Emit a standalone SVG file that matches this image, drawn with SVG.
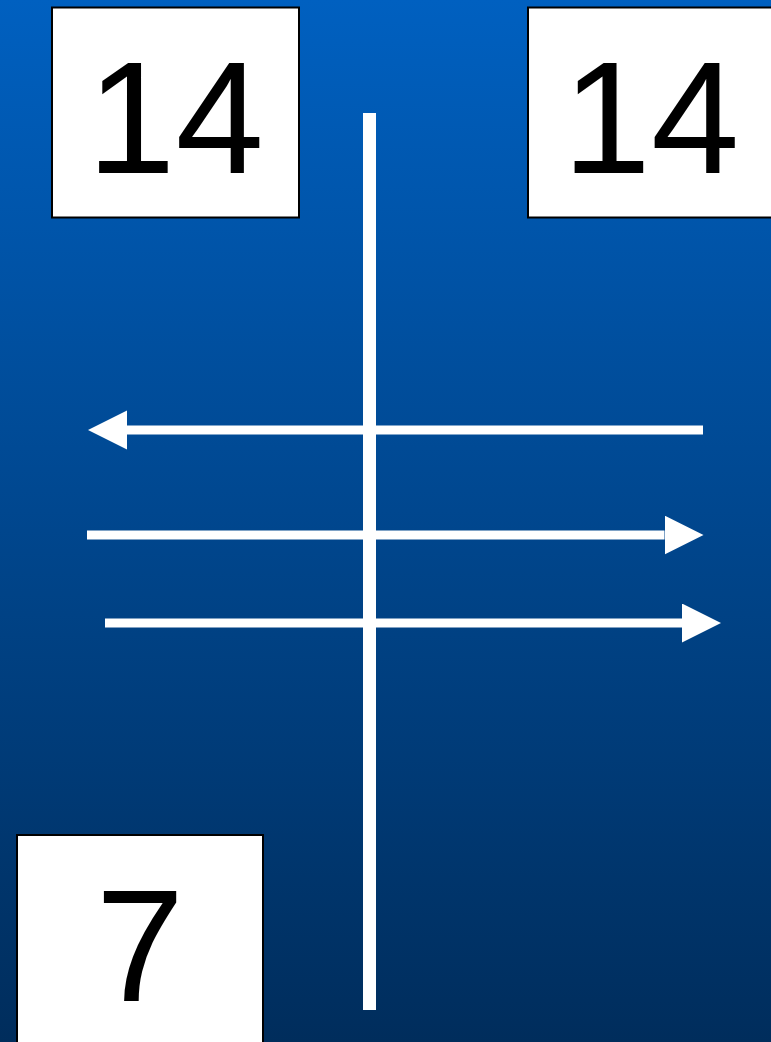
<svg xmlns="http://www.w3.org/2000/svg" width="771" height="1042" viewBox="0 0 771 1042">
<defs>
<linearGradient id="bg" x1="0" y1="0" x2="0" y2="1">
<stop offset="0" stop-color="#0060C0"/>
<stop offset="1" stop-color="#002D5C"/>
</linearGradient>
<marker id="ah" markerUnits="userSpaceOnUse" markerWidth="40" markerHeight="40" refX="0" refY="19.5" orient="auto">
<path d="M0,0 L39,19.5 L0,39 z" fill="#fff"/>
</marker>
<style>
.box{fill:#fff;stroke:#000;stroke-width:2}
.lbl{font-family:"Liberation Sans",Arial,sans-serif;font-size:159px;fill:#000;text-anchor:middle}
.ln{stroke:#fff;stroke-width:9;fill:none}
</style>
</defs>
<rect x="0" y="0" width="771" height="1042" fill="url(#bg)"/>
<g id="connectors">
<line x1="369.5" y1="113" x2="369.5" y2="1010" stroke="#fff" stroke-width="13"/>
<line class="ln" x1="703" y1="430" x2="127" y2="430" marker-end="url(#ah)"/>
<line class="ln" x1="87" y1="535" x2="664.5" y2="535" marker-end="url(#ah)"/>
<line class="ln" x1="105" y1="623" x2="682" y2="623" marker-end="url(#ah)"/>
</g>
<g id="node1">
<rect class="box" x="52" y="7.5" width="247" height="210"/>
<text class="lbl" x="175.5" y="173">14</text>
</g>
<g id="node2">
<rect class="box" x="528" y="7.5" width="247" height="210"/>
<text class="lbl" x="651" y="173">14</text>
</g>
<g id="node3">
<rect class="box" x="17" y="835" width="246" height="212"/>
<text class="lbl" x="140" y="1001">7</text>
</g>
</svg>
